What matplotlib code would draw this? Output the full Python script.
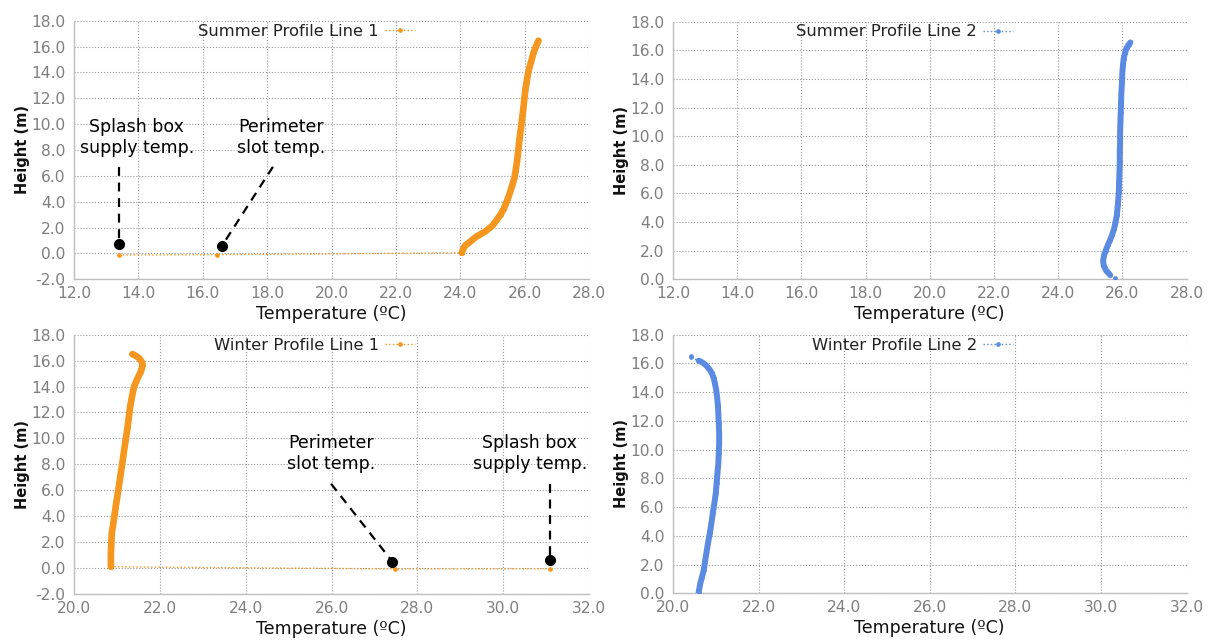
import matplotlib
matplotlib.use("Agg")
import matplotlib.pyplot as plt

plt.rcParams['font.family'] = ['DejaVu Sans']

ORANGE = '#F5961E'
BLUE = '#5B8AE3'

# ---------------- data (temperature °C, height m) ----------------
summer1_T = [13.40, 16.44, 24.05, 24.08, 24.15, 24.30, 24.50, 24.78, 25.00, 25.09,
             25.25, 25.35, 25.46, 25.55, 25.63, 25.68, 25.72, 25.76, 25.80, 25.84,
             25.88, 25.92, 25.96, 25.99, 26.02, 26.06, 26.11, 26.16, 26.22, 26.28,
             26.35, 26.43]
summer1_H = [-0.12, -0.10, 0.05, 0.30, 0.60, 0.90, 1.30, 1.70, 2.15, 2.45,
             3.00, 3.45, 4.10, 4.75, 5.40, 5.80, 6.40, 7.05, 7.90, 8.85,
             9.60, 10.40, 11.20, 11.95, 12.60, 13.25, 13.95, 14.50, 15.00, 15.55,
             16.00, 16.45]

summer2_T = [25.78, 25.62, 25.50, 25.42, 25.40, 25.43, 25.48, 25.55, 25.62, 25.68,
             25.74, 25.78, 25.83, 25.86, 25.89, 25.90, 25.91, 25.92, 25.92, 25.93,
             25.93, 25.94, 25.95, 25.96, 25.97, 25.99, 26.00, 26.02, 26.04, 26.08,
             26.13, 26.20, 26.25]
summer2_H = [0.07, 0.30, 0.60, 0.95, 1.30, 1.67, 2.00, 2.40, 2.75, 3.10,
             3.50, 3.90, 4.50, 5.20, 6.10, 6.80, 7.50, 8.20, 8.90, 9.60,
             10.30, 11.00, 11.70, 12.40, 13.05, 13.80, 14.45, 15.00, 15.40, 15.80,
             16.15, 16.40, 16.55]

winter1_T = [31.09, 27.48, 20.86, 20.86, 20.86, 20.87, 20.88, 20.91, 20.94, 20.97,
             21.01, 21.05, 21.09, 21.13, 21.17, 21.21, 21.25, 21.28, 21.31, 21.35,
             21.40, 21.45, 21.50, 21.55, 21.58, 21.60, 21.58, 21.52, 21.45, 21.36]
winter1_H = [-0.06, -0.07, 0.10, 0.60, 1.16, 1.90, 2.70, 3.30, 3.98, 4.70,
             5.52, 6.40, 7.32, 8.20, 9.11, 10.00, 10.91, 11.70, 12.45, 13.20,
             13.99, 14.40, 14.76, 15.10, 15.40, 15.66, 15.90, 16.17, 16.35, 16.50]

winter2_T = [20.60, 20.62, 20.64, 20.68, 20.72, 20.75, 20.78, 20.82, 20.86, 20.90,
             20.93, 20.97, 21.00, 21.02, 21.04, 21.06, 21.07, 21.08, 21.08, 21.07,
             21.06, 21.05, 21.03, 21.01, 20.98, 20.95, 20.91, 20.86, 20.80, 20.74,
             20.68, 20.60, 20.42, 20.42]
winter2_H = [0.05, 0.40, 0.70, 1.15, 1.62, 2.20, 2.78, 3.50, 4.18, 4.90,
             5.57, 6.30, 6.96, 7.65, 8.35, 9.05, 9.74, 10.45, 11.14, 11.85,
             12.53, 13.10, 13.69, 14.15, 14.62, 15.00, 15.31, 15.55, 15.78, 15.95,
             16.08, 16.19, 16.42, 16.50]

labels = ['Summer Profile Line 1', 'Summer Profile Line 2',
          'Winter Profile Line 1', 'Winter Profile Line 2']

# annotation: (dot T, dot H, dashed-line start T, start H, text T, text H, text)
summer_notes = [(13.40, 0.73, 13.40, 6.7, 13.95, 8.95, 'Splash box\nsupply temp.'),
                (16.60, 0.60, 18.18, 6.7, 18.44, 8.95, 'Perimeter\nslot temp.')]
winter_notes = [(27.42, 0.49, 25.99, 6.5, 26.00, 8.85, 'Perimeter\nslot temp.'),
                (31.09, 0.62, 31.09, 6.5, 30.62, 8.85, 'Splash box\nsupply temp.')]

# ---------------- figure ----------------
fig = plt.figure(figsize=(12.11, 6.40), dpi=100)
rects = [(0.0611, 0.5636, 0.4253, 0.4041),
         (0.5557, 0.5636, 0.4241, 0.4025),
         (0.0611, 0.0719, 0.4253, 0.4052),
         (0.5557, 0.0730, 0.4241, 0.4041)]

series = [(summer1_T, summer1_H, ORANGE, 2, None, 4.8),
          (summer2_T, summer2_H, BLUE, 1, None, 4.3),
          (winter1_T, winter1_H, ORANGE, 2, None, 4.8),
          (winter2_T, winter2_H, BLUE, 0, 32, 4.3)]
xlims = [(12, 28), (12, 28), (20, 32), (20, 32)]
ylims = [(-2, 18), (0, 18), (-2, 18), (0, 18)]
notes = [summer_notes, None, winter_notes, None]

for i in range(4):
    ax = fig.add_axes(rects[i])
    T, H, col, s0, s1, lw = series[i]
    ax.plot(T[s0:s1], H[s0:s1], color=col, lw=lw, solid_capstyle='round',
            solid_joinstyle='round', zorder=3)
    ax.plot(T, H, color=col, ls=':', lw=1.0, marker='o', markersize=3.4,
            markeredgewidth=0, label=labels[i], zorder=4)
    ax.set_xlim(*xlims[i])
    ax.set_ylim(*ylims[i])
    x0, x1 = xlims[i]
    ax.set_xticks([x0 + 2 * k for k in range(int((x1 - x0) / 2) + 1)])
    y0, y1 = ylims[i]
    ax.set_yticks([y0 + 2 * k for k in range(int((y1 - y0) / 2) + 1)])
    ax.xaxis.set_major_formatter(matplotlib.ticker.FormatStrFormatter('%.1f'))
    ax.yaxis.set_major_formatter(matplotlib.ticker.FormatStrFormatter('%.1f'))
    ax.tick_params(length=0, labelsize=11.2, labelcolor='#7f7f7f')
    ax.tick_params(axis='x', pad=5)
    ax.tick_params(axis='y', pad=6)
    ax.grid(True, ls=':', color='#9a9a9a', lw=0.8)
    ax.set_axisbelow(True)
    for sp in ['top', 'right']:
        ax.spines[sp].set_visible(False)
    for sp in ['left', 'bottom']:
        ax.spines[sp].set_color('#bfbfbf')
        ax.spines[sp].set_linewidth(1.0)
    ax.set_xlabel('Temperature (ºC)', fontsize=12.5, color='#111111', labelpad=3)
    ax.set_ylabel('Height (m)', fontsize=10.5, fontweight='bold', color='#111111',
                  labelpad=1)
    leg = ax.legend(loc='center right', bbox_to_anchor=(0.662, 0.96),
                    frameon=False, markerfirst=False, fontsize=11.8,
                    handlelength=1.8, handletextpad=0.4, borderpad=0,
                    borderaxespad=0)
    for t in leg.get_texts():
        t.set_color('#222222')
    if notes[i]:
        for dT, dH, sT, sH, tT, tH, txt in notes[i]:
            ax.plot([sT, dT], [sH, dH], color='black', ls=(0, (4, 3)), lw=1.6,
                    zorder=5)
            ax.plot([dT], [dH], 'o', color='black', markersize=7, zorder=6)
            ax.text(tT, tH, txt, ha='center', va='center', fontsize=12.5,
                    color='black', linespacing=1.25, zorder=6)

fig.savefig('out.png', dpi=100)
